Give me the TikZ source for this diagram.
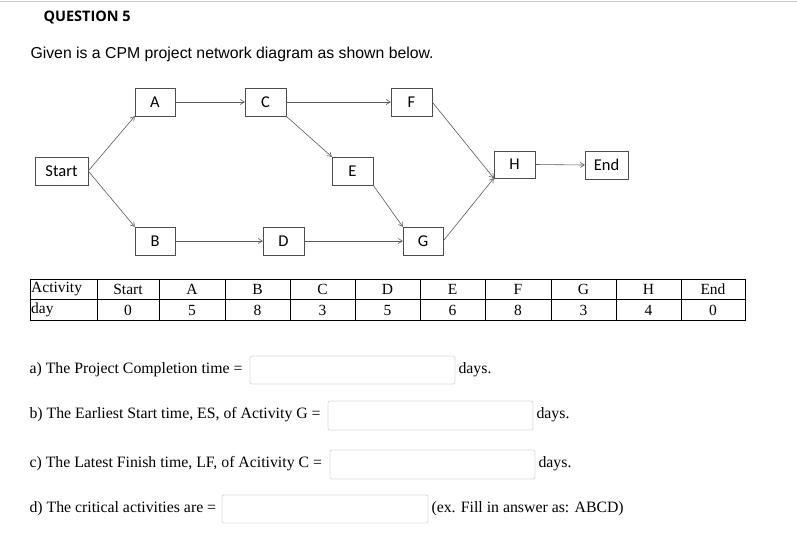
\documentclass[tikz,border=0pt]{standalone}
\usepackage{fontspec}
\setmainfont{Liberation Serif}
\newfontfamily\carfont{Carlito}
\newfontfamily\arsfont{Liberation Sans}
\newfontfamily\hdrfont{Open Sans}
\usetikzlibrary{arrows.meta}
\begin{document}
\begin{tikzpicture}[x=1pt,y=-1pt,
 bx/.style={draw=black!70,fill=white,inner sep=0,font=\carfont\fontsize{16.5}{18}\selectfont},
 ar/.style={draw=black!65,line width=0.6pt,-{Straight Barb[length=4pt,width=5pt]}},
 inp/.style={draw=black!15,rounded corners=2pt,line width=0.8pt},
 q/.style={anchor=west,font=\fontsize{15.8}{18}\selectfont},
 tb/.style={font=\fontsize{15.5}{17}\selectfont}]
\useasboundingbox (0,0) rectangle (797,542);
\draw[black!20,line width=1pt] (0,1.5) -- (797,1.5);
\node[anchor=west,font=\hdrfont\bfseries\fontsize{14.5}{16}\selectfont] (t) at (40,17) {QUESTION 5};
\node[anchor=west,font=\arsfont\fontsize{15.8}{18}\selectfont] (g) at (27,54) {Given is a CPM project network diagram as shown below.};
\newcommand\bxx[6]{\node[bx,minimum width=#4-#2,minimum height=#5-#3] (#1) at ({(#2+#4)/2},{(#3+#5)/2}) {#6};}
\bxx{A}{135}{88}{175}{116}{A}
\bxx{C}{245}{88}{286}{116}{C}
\bxx{F}{391}{88}{432}{116}{F}
\bxx{S}{35}{157}{88}{185}{Start}
\bxx{E}{332}{157}{373}{185}{E}
\bxx{B}{135}{227}{175}{255}{B}
\bxx{D}{263}{227}{304}{255}{D}
\bxx{G}{403}{227}{443}{255}{G}
\bxx{H}{494}{151}{535}{178}{H}
\bxx{N}{585}{151}{628}{179}{End}
\draw[ar] (S.east) -- (A.south west);
\draw[ar] (S.east) -- (B.north west);
\draw[ar] (A.east) -- (C.west);
\draw[ar] (B.east) -- (D.west);
\draw[ar] (C.east) -- (F.west);
\draw[ar] (C.south east) -- (E.north west);
\draw[ar] (D.east) -- (G.west);
\draw[ar] (E.south east) -- (G.north west);
\draw[ar] (F.east) -- (H.south west);
\draw[ar] (G.east) -- (H.south west);
\draw[ar] (H.east) -- (N.west);
% table
\draw[line width=0.8pt] (30,279) rectangle (745,320);
\draw[line width=0.8pt] (30,299.5) -- (745,299.5);
\foreach \x in {97,159,225,290,355,420,485,551,616,681}{\draw[line width=0.8pt] (\x,279)--(\x,320);}
\foreach \a/\b/\t/\d in {97/159/Start/0,159/225/A/5,225/290/B/8,290/355/C/3,355/420/D/5,420/485/E/6,485/551/F/8,551/616/G/3,616/681/H/4,681/745/End/0}{
 \node[tb] at ({(\a+\b)/2},289.5) {\t};
 \node[tb] at ({(\a+\b)/2},310) {\d};}
\node[tb,anchor=west,inner sep=1pt] at (30,289.5) {Activity};
\node[tb,anchor=west,inner sep=1pt] at (30,310) {day};
% questions
\node[q] at (26,370) {a) The Project Completion time =};
\draw[inp] (250,356) rectangle (455,384);
\node[q] at (455,370) {days.};
\node[q] at (26,415) {b) The Earliest Start time, ES, of Activity G =};
\draw[inp] (328,401) rectangle (533,430);
\node[q] at (533,415) {days.};
\node[q] at (26,464) {c) The Latest Finish time, LF, of Acitivity C =};
\draw[inp] (330,450) rectangle (535,479);
\node[q] at (535,464) {days.};
\node[q] at (26,509) {d) The critical activities are =};
\draw[inp] (222,495) rectangle (428,523);
\node[q] at (428,509) {(ex. Fill in answer as: ABCD)};
\end{tikzpicture}
\end{document}
